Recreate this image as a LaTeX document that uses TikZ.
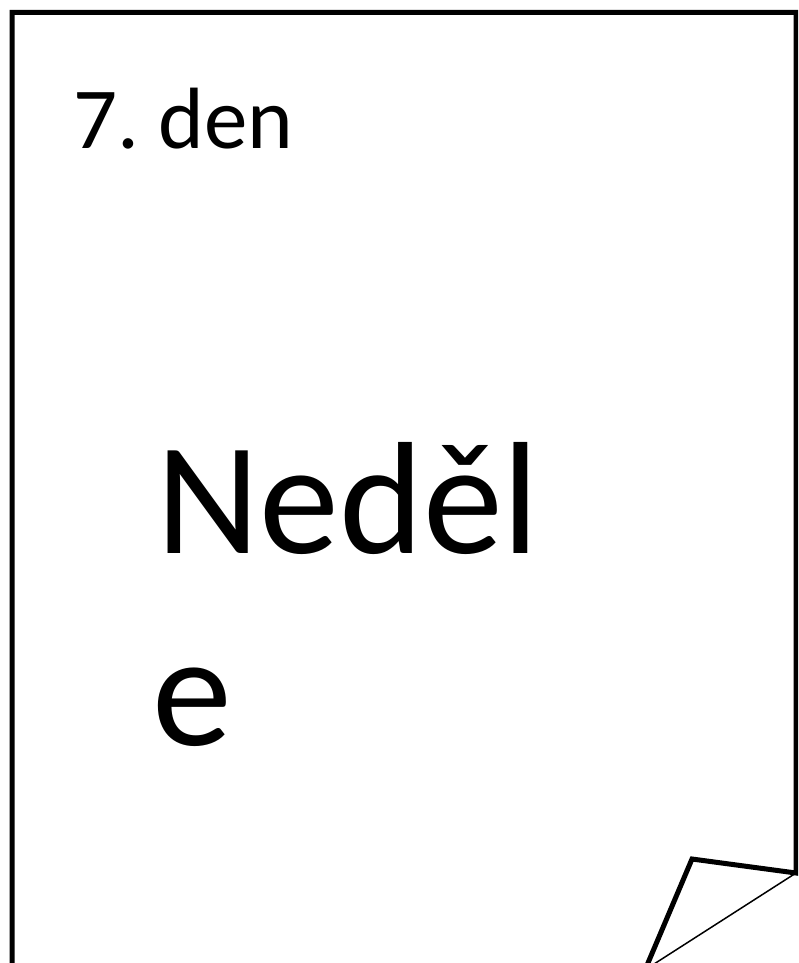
\documentclass[tikz,border=0pt]{standalone}
\usepackage{fontspec}
\setmainfont{Carlito}
\usepackage{tikz}
\frenchspacing

\begin{document}
\begin{tikzpicture}[x=1pt,y=-1pt,every node/.style={inner sep=0pt}]
\useasboundingbox (0,0) rectangle (798,963);
\begin{scope}
\clip (0,0) rectangle (798,963);
\draw[line width=5pt](12,975) -- (12,12.5) -- (796,12.5) -- (796,873) -- (692,859) -- (645,970) ;
\draw[line width=1.5pt](640,973) -- (796,873) ;
\end{scope}
\node[anchor=base west,font=\fontsize{87}{104}\selectfont](day) at (73,148){7. den} ;
\node[anchor=base west,font=\fontsize{160}{192}\selectfont](namea) at (156,553){Neděl} ;
\node[anchor=base west,font=\fontsize{160}{192}\selectfont](nameb) at (152,745){e} ;
\end{tikzpicture}
\end{document}
